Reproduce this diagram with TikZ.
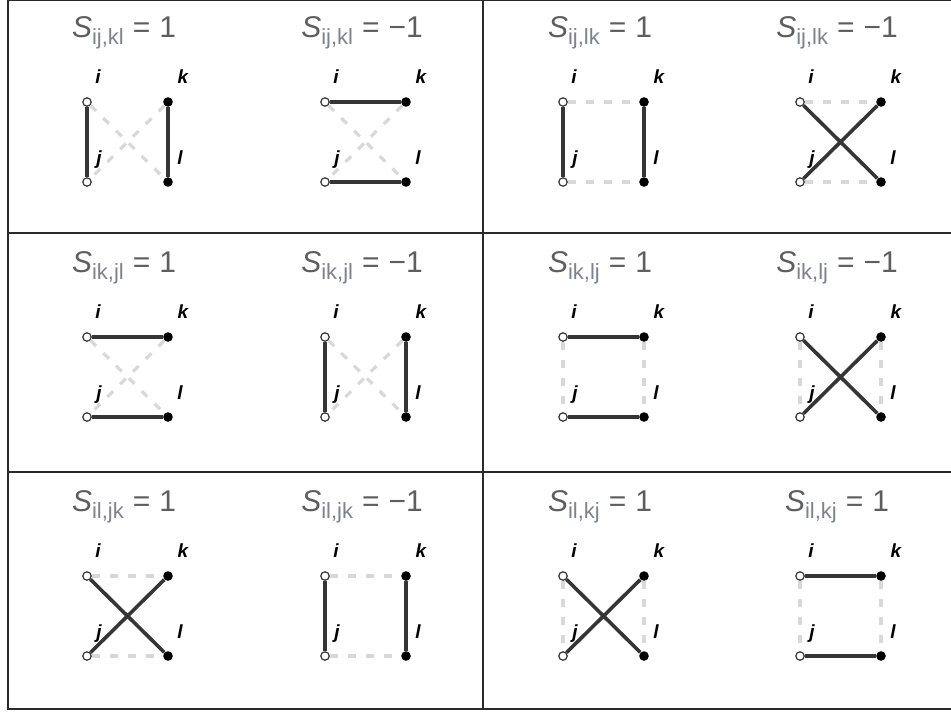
\documentclass[tikz,border=0pt]{standalone}
\usepackage{fontspec}
\setmainfont{Liberation Sans}
\usetikzlibrary{positioning}

\definecolor{titlegray}{HTML}{5E5E5E}
\definecolor{subgray}{HTML}{7C8290}
\definecolor{bondgray}{HTML}{353535}
\definecolor{ghostgray}{HTML}{D8D8D8}
\definecolor{framegray}{HTML}{2A2A2A}

\tikzset{
	openpt/.style={circle, draw=bondgray, fill=white, line width=0.6pt, inner sep=0pt, minimum size=4.2pt},
	fullpt/.style={circle, fill=black, inner sep=0pt, minimum size=4.8pt},
	lab/.style={font=\fontsize{9.5}{9.5}\selectfont\bfseries\itshape, inner sep=0pt, anchor=base},
	ttl/.style={font=\fontsize{15}{15}\selectfont, text=titlegray, inner sep=0pt, anchor=base},
	bond/.style={draw=bondgray, line width=1.8pt},
	ghost/.style={draw=ghostgray, line width=1.6pt, dash pattern=on 4pt off 5pt},
	frame/.style={draw=framegray, line width=1.2pt},
}

% S-Term im Titel
\newcommand{\sterm}[2]{\textit{S}\raisebox{-3.5pt}{\color{subgray}\fontsize{11}{11}\selectfont #1}\hspace{4.5pt}=\hspace{4.5pt}#2}

% vier Punkte i, k (oben), j, l (unten) mit Beschriftung
\newcommand{\quartet}[5]{%
	\node[openpt] (#1i) at (#2,#3) {};
	\node[fullpt] (#1k) at (#2+81,#3) {};
	\node[openpt] (#1j) at (#2,#3+80) {};
	\node[fullpt] (#1l) at (#2+81,#3+80) {};
	\node[lab] (#1i-txt) at (#2+11,#3-19) {i};
	\node[lab] (#1k-txt) at (#2+96,#3-19) {k};
	\node[lab] (#1j-txt) at (#2+12,#3+62) {j};
	\node[lab] (#1l-txt) at (#2+93,#3+62) {l};
	\node[ttl] (#1-title) at (#2+37,#3-65) {\sterm{#4}{#5}};
}

\begin{document}
\begin{tikzpicture}[x=0.5pt, y=-0.5pt]
	\useasboundingbox (0,0) rectangle (951,713);
	\clip (0,0) rectangle (951,713);
	
	% Rahmen
	\draw[frame] (8,0) -- (8,709) -- (960,709);
	\draw[frame] (8,0) -- (960,0);
	\draw[frame] (8,233) -- (960,233);
	\draw[frame] (8,472) -- (960,472);
	\draw[frame] (483,0) -- (483,709);
	
	% Zeile 1
	\quartet{a}{87}{102}{ij,kl}{1}
	\quartet{b}{325}{102}{ij,kl}{−1}
	\quartet{c}{563}{102}{ij,lk}{1}
	\quartet{d}{800}{102}{ij,lk}{−1}
	
	% Zeile 2
	\quartet{e}{87}{337}{ik,jl}{1}
	\quartet{f}{325}{337}{ik,jl}{−1}
	\quartet{g}{563}{337}{ik,lj}{1}
	\quartet{h}{800}{337}{ik,lj}{−1}
	
	% Zeile 3
	\quartet{m}{87}{576}{il,jk}{1}
	\quartet{n}{325}{576}{il,jk}{−1}
	\quartet{o}{563}{576}{il,kj}{1}
	\quartet{p}{800}{576}{il,kj}{1}
	
	% gestrichelt
	\draw[ghost] (ai) -- (al); \draw[ghost] (ak) -- (aj);
	\draw[ghost] (bi) -- (bl); \draw[ghost] (bk) -- (bj);
	\draw[ghost] (ci) -- (ck); \draw[ghost] (cj) -- (cl);
	\draw[ghost] (di) -- (dk); \draw[ghost] (dj) -- (dl);
	\draw[ghost] (ei) -- (el); \draw[ghost] (ek) -- (ej);
	\draw[ghost] (fi) -- (fl); \draw[ghost] (fk) -- (fj);
	\draw[ghost] (gi) -- (gj); \draw[ghost] (gk) -- (gl);
	\draw[ghost] (hi) -- (hj); \draw[ghost] (hk) -- (hl);
	\draw[ghost] (mi) -- (mk); \draw[ghost] (mj) -- (ml);
	\draw[ghost] (ni) -- (nk); \draw[ghost] (nj) -- (nl);
	\draw[ghost] (oi) -- (oj); \draw[ghost] (ok) -- (ol);
	\draw[ghost] (pi) -- (pj); \draw[ghost] (pk) -- (pl);
	
	% durchgezogen
	\draw[bond] (ai) -- (aj); \draw[bond] (ak) -- (al);
	\draw[bond] (bi) -- (bk); \draw[bond] (bj) -- (bl);
	\draw[bond] (ci) -- (cj); \draw[bond] (ck) -- (cl);
	\draw[bond] (di) -- (dl); \draw[bond] (dk) -- (dj);
	\draw[bond] (ei) -- (ek); \draw[bond] (ej) -- (el);
	\draw[bond] (fi) -- (fj); \draw[bond] (fk) -- (fl);
	\draw[bond] (gi) -- (gk); \draw[bond] (gj) -- (gl);
	\draw[bond] (hi) -- (hl); \draw[bond] (hk) -- (hj);
	\draw[bond] (mi) -- (ml); \draw[bond] (mk) -- (mj);
	\draw[bond] (ni) -- (nj); \draw[bond] (nk) -- (nl);
	\draw[bond] (oi) -- (ol); \draw[bond] (ok) -- (oj);
	\draw[bond] (pi) -- (pk); \draw[bond] (pj) -- (pl);
\end{tikzpicture}
\end{document}
